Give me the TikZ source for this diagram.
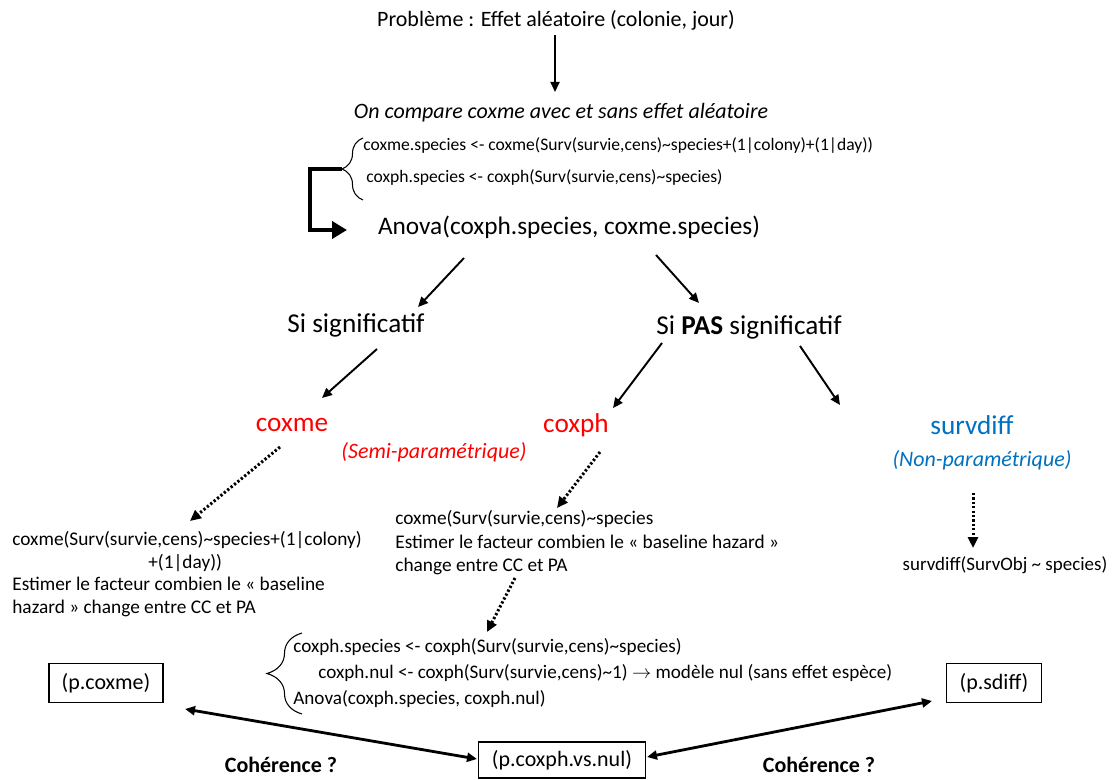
\documentclass[tikz,border=0pt]{standalone}
\usepackage{fontspec}
\setmainfont{Carlito}
\usetikzlibrary{arrows.meta,positioning,calc,decorations.pathreplacing}
\definecolor{modelred}{HTML}{FF0000}
\definecolor{modelblue}{HTML}{0070C0}
\tikzset{txt/.style={inner sep=0pt},code/.style={inner sep=0pt,anchor=west,font=\fontsize{10}{12}\selectfont},block/.style={inner sep=0pt,anchor=west,align=left},model/.style={inner sep=0pt,font=\fontsize{15.5}{18}\selectfont},pval/.style={rectangle,draw,line width=.6pt,inner sep=0pt,minimum height=.78cm,font=\fontsize{12.5}{15}\selectfont},flow/.style={-{Triangle[length=2mm,width=1.8mm]},line width=1.1pt},dotflow/.style={-{Triangle[length=2.2mm,width=2mm]},line width=1.7pt,dash pattern=on 1.3pt off 1.2pt},elbow/.style={-{Triangle[length=3mm,width=3.4mm]},line width=2.3pt},twoway/.style={{Triangle[length=2mm,width=1.8mm]}-{Triangle[length=2mm,width=1.8mm]},line width=1.6pt},curly/.style={decorate,decoration={brace,amplitude=#1},line width=.6pt}}
\begin{document}
\begin{tikzpicture}[x=0.02cm,y=-0.02cm]
\useasboundingbox (0,0) rectangle (1115,780);
\node[txt,font=\fontsize{12.5}{15}\selectfont] (prob) at (556,20) {Problème : Effet aléatoire (colonie, jour)};
\node[txt,font=\itshape\fontsize{12.5}{15}\selectfont] (compare) at (561,113) {On compare coxme avec et sans effet aléatoire};
\node[code] (cm1) at (363,146) {coxme.species <- coxme(Surv(survie,cens)\textasciitilde species+(1\textbar colony)+(1\textbar day))};
\node[code] (cm2) at (366,177) {coxph.species <- coxph(Surv(survie,cens)\textasciitilde species)};
\draw[curly=0.42cm] (363,200) -- (363,138);
\coordinate (tip1) at (342,169);
\node[txt,font=\fontsize{14.4}{17}\selectfont] (anova) at (569,227) {Anova(coxph.species, coxme.species)};
\node[txt,font=\fontsize{15.5}{18}\selectfont] (sig) at (356,325) {Si significatif};
\node[txt,font=\fontsize{15.5}{18}\selectfont] (nosig) at (749,327) {Si \textbf{PAS} significatif};
\node[model,modelred] (coxme) at (292,425) {coxme};
\node[model,modelred] (coxph) at (576,425) {coxph};
\node[model,modelblue] (survdiff) at (972,425) {survdiff};
\node[txt,modelred,font=\itshape\fontsize{12.5}{15}\selectfont] (semi) at (434,452) {(Semi-paramétrique)};
\node[txt,modelblue,font=\itshape\fontsize{12.5}{15}\selectfont] (nonpar) at (982,460) {(Non-paramétrique)};
\node[block,font=\fontsize{11}{12.9}\selectfont] (lb) at (12,574) {coxme(Surv(survie,cens)\textasciitilde species+(1\textbar colony)\\\hspace*{2.72cm}+(1\textbar day))\\Estimer le facteur combien le « baseline\\hazard » change entre CC et PA};
\node[block,font=\fontsize{11}{13.4}\selectfont] (mb) at (395,543) {coxme(Surv(survie,cens)\textasciitilde species\\Estimer le facteur combien le « baseline hazard »\\change entre CC et PA};
\node[txt,font=\fontsize{10.8}{13}\selectfont] (sc) at (1005,565) {survdiff(SurvObj \textasciitilde{} species)};
\node[block,font=\fontsize{10.9}{15}\selectfont] (nb) at (293,673) {coxph.species <- coxph(Surv(survie,cens)\textasciitilde species)\\\hspace*{0.5cm}coxph.nul <- coxph(Surv(survie,cens)\textasciitilde 1) $\rightarrow$ modèle nul (sans effet espèce)\\Anova(coxph.species, coxph.nul)};
\draw[curly=0.7cm] (302,714) -- (302,633);
\node[pval,minimum width=2.28cm] (pcoxme) at (106,683) {(p.coxme)};
\node[pval,minimum width=1.9cm] (psdiff) at (994,683) {(p.sdiff)};
\node[pval,minimum width=3.34cm,minimum height=.72cm] (pnul) at (562,760) {(p.coxph.vs.nul)};
\node[txt,font=\bfseries\fontsize{12.5}{15}\selectfont] (coh1) at (281,765) {Cohérence ?};
\node[txt,font=\bfseries\fontsize{12.5}{15}\selectfont] (coh2) at (819,765) {Cohérence ?};
% connectors
\draw[flow] ($(prob)+(-1,15)$) -- ($(compare)+(-6,-21)$);
\draw[elbow] (tip1) -- ++(-32,0) |- ($(anova)+(-222,3)$);
\draw[flow] ($(anova)+(-105,31)$) -- ($(sig)+(62,-18)$);
\draw[flow] ($(anova)+(87,28)$) -- ($(nosig)+(-50,-24)$);
\draw[flow] ($(sig)+(21,24)$) -- ($(coxme)+(30,-27)$);
\draw[flow] ($(nosig)+(-87,16)$) -- ($(coxph)+(37,-17)$);
\draw[flow] ($(nosig)+(51,19)$) -- ($(survdiff)+(-132,-20)$);
\draw[dotflow] ($(coxme)+(-12,22)$) -- ($(coxme)+(-102,96)$);
\draw[dotflow] ($(coxph)+(24,27)$) -- ($(coxph)+(-19,83)$);
\draw[dotflow] ($(survdiff)+(1,68)$) -- ($(survdiff)+(1,123)$);
\draw[dotflow] ($(mb.west)+(120,35)$) -- ($(mb.west)+(92,89)$);
\draw[twoway] ($(pcoxme)+(79,26)$) -- ($(pnul)+(-85,-1)$);
\draw[twoway] ($(pnul)+(85,-3)$) -- ($(psdiff)+(-62,18)$);
\end{tikzpicture}
\end{document}
